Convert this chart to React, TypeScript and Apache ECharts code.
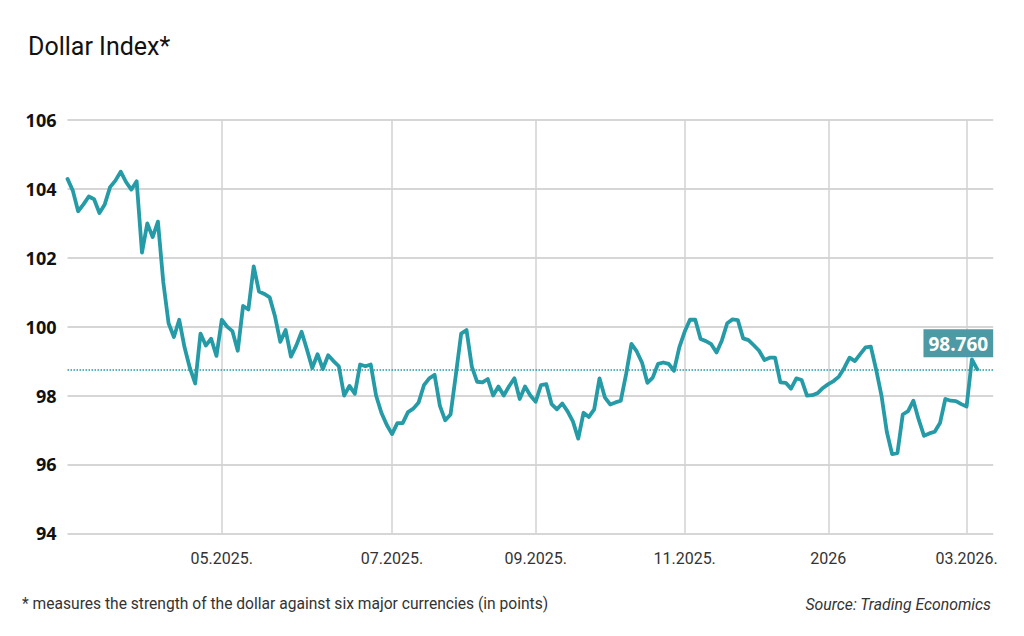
import React, { useEffect, useRef } from "react";
import * as echarts from "echarts";

// Dollar Index readings (points), one per sample date
const dxyValues: number[] = [
  104.29, 103.95, 103.35, 103.55, 103.78, 103.7, 103.3, 103.55, 104.05, 104.24,
  104.5, 104.2, 103.98, 104.22, 102.15, 103.0, 102.6, 103.05, 101.3, 100.1,
  99.7, 100.2, 99.4, 98.8, 98.35, 99.8, 99.45, 99.65, 99.15, 100.2,
  100.0, 99.87, 99.3, 100.6, 100.5, 101.75, 101.02, 100.95, 100.85, 100.3,
  99.56, 99.9, 99.13, 99.45, 99.85, 99.34, 98.8, 99.2, 98.77, 99.17,
  99.0, 98.85, 98.0, 98.28, 98.05, 98.9, 98.85, 98.9, 98.0, 97.5,
  97.15, 96.88, 97.2, 97.2, 97.52, 97.62, 97.8, 98.3, 98.5, 98.6,
  97.7, 97.28, 97.45, 98.6, 99.8, 99.9, 98.84, 98.4, 98.38, 98.48,
  98.0, 98.26, 98.0, 98.27, 98.5, 97.9, 98.26, 98.0, 97.82, 98.3,
  98.33, 97.75, 97.6, 97.77, 97.54, 97.25, 96.75, 97.5, 97.38, 97.6,
  98.5, 97.95, 97.74, 97.8, 97.85, 98.62, 99.5, 99.28, 98.95, 98.37,
  98.52, 98.92, 98.96, 98.92, 98.72, 99.4, 99.85, 100.2, 100.2, 99.64,
  99.58, 99.49, 99.25, 99.6, 100.1, 100.21, 100.19, 99.66, 99.61, 99.46,
  99.3, 99.03, 99.1, 99.1, 98.38, 98.37, 98.2, 98.5, 98.45, 98.0,
  98.01, 98.07, 98.22, 98.33, 98.42, 98.55, 98.8, 99.1, 99.0, 99.2,
  99.4, 99.42, 98.75, 98.0, 96.95, 96.3, 96.33, 97.45, 97.55, 97.85,
  97.3, 96.83, 96.9, 96.95, 97.2, 97.9, 97.85, 97.84, 97.75, 97.68,
  99.05, 98.76,
];

// Date anchors of the sample sequence: [sample index, date]
const dateAnchors: [number, string][] = [
  [0, "2025-03-03"],
  [29, "2025-05-01"],
  [61, "2025-07-01"],
  [88, "2025-09-01"],
  [116, "2025-11-01"],
  [143, "2026-01-01"],
  [169, "2026-03-01"],
  [174, "2026-03-11"],
];

const tickDates: string[] = ["2025-05-01", "2025-07-01", "2025-09-01", "2025-11-01", "2026-01-01", "2026-03-01"];
const tickLabels: string[] = ["05.2025.", "07.2025.", "09.2025.", "11.2025.", "2026", "03.2026."];

const yTicks: number[] = [94, 96, 98, 100, 102, 104, 106];
const lastValue = 98.76;

const DAY = 86400000;
function buildCategories(): string[] {
  const out: string[] = [];
  for (let a = 0; a < dateAnchors.length - 1; a++) {
    const [i0, d0] = dateAnchors[a];
    const [i1, d1] = dateAnchors[a + 1];
    const t0 = Date.parse(d0 + "T00:00:00Z");
    const t1 = Date.parse(d1 + "T00:00:00Z");
    const days = Math.round((t1 - t0) / DAY);
    for (let i = i0; i < i1; i++) {
      const k = Math.round(((i - i0) * days) / (i1 - i0));
      out.push(new Date(t0 + k * DAY).toISOString().slice(0, 10));
    }
  }
  out.push(dateAnchors[dateAnchors.length - 1][1]);
  return out;
}

export default function App() {
  const ref = useRef<HTMLDivElement>(null);

  useEffect(() => {
    if (!ref.current) return;
    const chart = echarts.init(ref.current, null, { renderer: "svg" });
    const categories = buildCategories();
    const isTick = (_i: number, v: string) => tickDates.indexOf(v) >= 0;

    chart.setOption({
      animation: false,
      backgroundColor: "#ffffff",
      grid: { left: 67.5, right: 30.8, top: 120, bottom: 102.7, containLabel: false },
      graphic: [
        {
          type: "text",
          x: 28,
          y: 46,
          style: {
            text: "Dollar Index*",
            fontSize: 25,
            fontFamily: "Roboto",
            fill: "#111111",
            verticalAlign: "middle",
            align: "left",
          },
        },
        {
          type: "text",
          x: 22,
          y: 604,
          style: {
            text: "* measures the strength of the dollar against six major currencies (in points)",
            fontSize: 15.6,
            fontFamily: "Roboto",
            fill: "#333333",
            verticalAlign: "middle",
            align: "left",
          },
        },
        {
          type: "text",
          x: 991,
          y: 604,
          style: {
            text: "Source: Trading Economics",
            fontSize: 15.8,
            fontStyle: "italic",
            fontFamily: "Roboto",
            fill: "#333333",
            verticalAlign: "middle",
            align: "right",
          },
        },
      ],
      xAxis: {
        type: "category",
        data: categories,
        boundaryGap: false,
        axisLine: { show: false },
        axisTick: { show: false },
        axisLabel: {
          interval: isTick,
          formatter: (v: string) => {
            const k = tickDates.indexOf(v);
            return k >= 0 ? tickLabels[k] : "";
          },
          color: "#333333",
          fontFamily: "Roboto",
          fontSize: 16,
          margin: 17,
        },
        splitLine: {
          show: true,
          interval: isTick,
          lineStyle: { color: "#d2d2d2", width: 1.5 },
        },
      },
      yAxis: {
        type: "value",
        min: yTicks[0],
        max: yTicks[yTicks.length - 1],
        interval: 2,
        axisLine: { show: false },
        axisTick: { show: false },
        axisLabel: {
          color: "#111111",
          fontFamily: "Open Sans",
          fontWeight: "bold",
          fontSize: 18,
          margin: 11,
        },
        splitLine: { lineStyle: { color: "#c8c8c8", width: 1.5 } },
      },
      series: [
        {
          type: "line",
          data: dxyValues,
          showSymbol: false,
          symbol: "none",
          lineStyle: { color: "#249ba6", width: 3.8, join: "round", cap: "round" },
          silent: true,
          markLine: {
            silent: true,
            symbol: "none",
            data: [{ yAxis: lastValue }],
            lineStyle: { type: "dotted", color: "#249ba6", width: 1.5 },
            label: {
              show: true,
              position: "insideEndTop",
              formatter: () => lastValue.toFixed(3),
              backgroundColor: "#4d9aa5",
              color: "#ffffff",
              fontFamily: "Open Sans",
              fontWeight: "bold",
              fontSize: 19,
              padding: [5, 5, 4, 5],
              distance: [0, 12],
            },
          },
        },
      ],
    });
    return () => chart.dispose();
  }, []);

  return <div ref={ref} style={{ position: "fixed", left: 0, top: 0, width: 1024, height: 636 }} />;
}
